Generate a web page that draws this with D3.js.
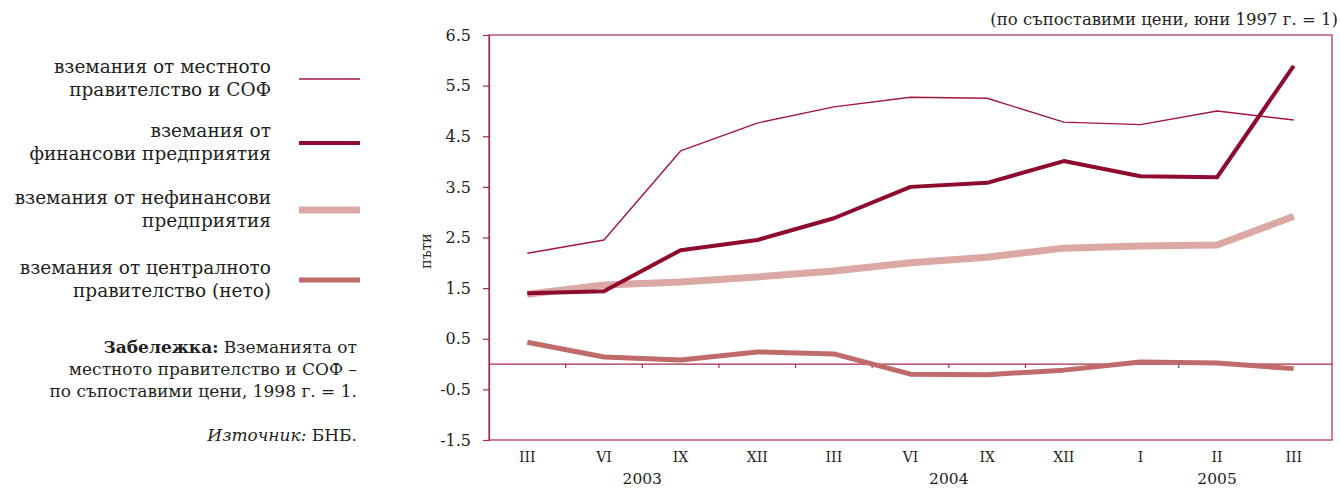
<!DOCTYPE html>
<html><head><meta charset="utf-8">
<script src="https://cdn.jsdelivr.net/npm/d3@7"></script>
<style>
html,body{margin:0;padding:0;background:#fff;}
svg text{fill:#231f20;}
</style></head>
<body>
<svg id="chart" width="1340" height="488"></svg>
<script>
const categories = ["III","VI","IX","XII","III","VI","IX","XII","I","II","III"];
const years = [{label:"2003", from:0, to:3},{label:"2004", from:4, to:7},{label:"2005", from:8, to:10}];
const localGov = [2.19, 2.45, 4.21, 4.76, 5.08, 5.27, 5.25, 4.78, 4.73, 5.0, 4.82];
const financial = [1.40, 1.44, 2.25, 2.45, 2.88, 3.50, 3.58, 4.01, 3.71, 3.69, 5.89];
const nonFinancial = [1.38, 1.56, 1.62, 1.72, 1.84, 2.0, 2.11, 2.29, 2.33, 2.35, 2.92];
const centralGov = [0.43, 0.14, 0.08, 0.24, 0.20, -0.20, -0.21, -0.12, 0.04, 0.02, -0.09];
const yTicks = [6.5, 5.5, 4.5, 3.5, 2.5, 1.5, 0.5, -0.5, -1.5];
const legendLabels = [
  ["вземания от местното","правителство и СОФ"],
  ["вземания от","финансови предприятия"],
  ["вземания от нефинансови","предприятия"],
  ["вземания от централното","правителство (нето)"]
];

const series = [
  {values: localGov, color:"#a2173f", width:1.4},
  {values: financial, color:"#8e0a2f", width:4},
  {values: nonFinancial, color:"#dba8a3", width:7},
  {values: centralGov, color:"#c06a69", width:5}
];
const drawOrder = [2, 3, 0, 1];

const FONT = "DejaVu Serif";
const svg = d3.select("#chart").attr("font-family", FONT);
svg.style("font-family", FONT);
const L = 489, R = 1332, T = 35, B = 440;
const frameColor = "#a8284c";

const x = d3.scaleBand().domain(d3.range(categories.length)).range([L, R]);
const y = d3.scaleLinear().domain([-1.5, 6.5]).range([B, T]);

svg.append("rect").attr("x", L).attr("y", T).attr("width", R - L).attr("height", B - T)
  .attr("fill", "none").attr("stroke", frameColor).attr("stroke-width", 1.2);

const yAxis = d3.axisLeft(y).tickValues(yTicks).tickFormat(d => d3.format(".1f")(d).replace("−", "-")).tickSize(6).tickPadding(12);
const gy = svg.append("g").attr("transform", `translate(${L},0)`).call(yAxis).attr("font-family", FONT);
gy.select(".domain").attr("stroke", frameColor).attr("stroke-width", 1.2);
gy.selectAll(".tick line").attr("stroke", frameColor).attr("stroke-width", 1.2);
gy.selectAll(".tick text").attr("font-size", 16).attr("fill", "#231f20");

svg.append("line").attr("x1", L).attr("x2", R).attr("y1", y(0)).attr("y2", y(0))
  .attr("stroke", frameColor).attr("stroke-width", 1.2);
d3.range(1, categories.length).forEach(i => {
  const bx = x(i);
  svg.append("line").attr("x1", bx).attr("x2", bx).attr("y1", y(0)).attr("y2", y(0) + 4)
    .attr("stroke", frameColor).attr("stroke-width", 1.2);
});

const xAxis = d3.axisBottom(x).tickFormat(i => categories[i]).tickSize(0).tickPadding(12);
const gx = svg.append("g").attr("transform", `translate(0,${B})`).call(xAxis).attr("font-family", FONT);
gx.select(".domain").remove();
gx.selectAll(".tick text").attr("font-size", 14).attr("fill", "#231f20");

years.forEach(yr => {
  const cx = (x(yr.from) + x(yr.to) + x.bandwidth()) / 2;
  svg.append("text").attr("x", cx).attr("y", 484).attr("text-anchor", "middle")
    .attr("font-size", 15.5).text(yr.label);
});

svg.append("text").attr("transform", `translate(431,251) rotate(-90)`).attr("text-anchor", "middle")
  .attr("font-size", 14).text("пъти");

svg.append("text").attr("x", 1338).attr("y", 25).attr("text-anchor", "end")
  .attr("font-size", 16.5).text("(по съпоставими цени, юни 1997 г. = 1)");

const line = d3.line().x((d, i) => x(i) + x.bandwidth() / 2).y(d => y(d));
drawOrder.forEach(k => {
  const s = series[k];
  svg.append("path").datum(s.values).attr("d", line).attr("fill", "none")
    .attr("stroke", s.color).attr("stroke-width", s.width).attr("stroke-linejoin", "round");
});

const legendY = [79, 143, 210, 280];
legendLabels.forEach((lab, k) => {
  const s = series[k];
  svg.append("line").attr("x1", 299).attr("x2", 360).attr("y1", legendY[k]).attr("y2", legendY[k])
    .attr("stroke", s.color).attr("stroke-width", Math.max(s.width, 1.4));
  const t = svg.append("text").attr("text-anchor", "end").attr("font-size", 18.5);
  lab.forEach((ln, j) => {
    t.append("tspan").attr("x", 271).attr("y", legendY[k] - 6 + j * 23).text(ln);
  });
});

const note = svg.append("text").attr("text-anchor", "end").attr("font-size", 17);
note.append("tspan").attr("x", 357).attr("y", 353).attr("font-weight", "bold").text("Забележка:");
note.append("tspan").text(" Вземанията от");
note.append("tspan").attr("x", 357).attr("y", 375).text("местното правителство и СОФ –");
note.append("tspan").attr("x", 357).attr("y", 397).text("по съпоставими цени, 1998 г. = 1.");
const src = svg.append("text").attr("text-anchor", "end").attr("font-size", 17);
src.append("tspan").attr("x", 357).attr("y", 441).attr("font-style", "italic").text("Източник:");
src.append("tspan").text(" БНБ.");
</script>
</body></html>
